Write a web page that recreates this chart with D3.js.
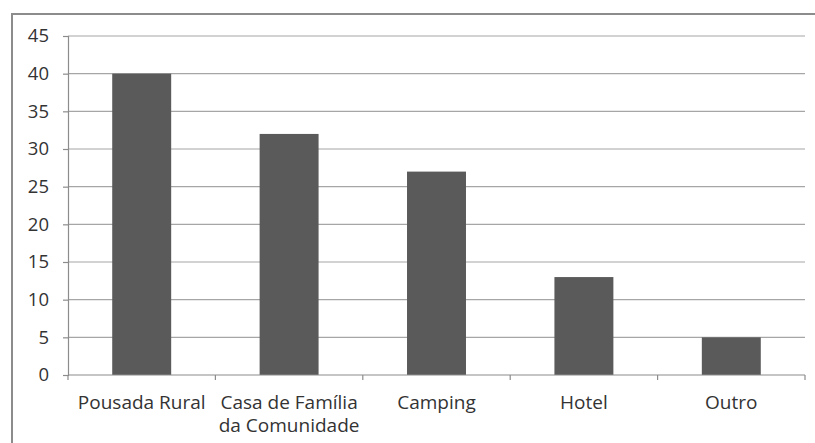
<!DOCTYPE html>
<html>
<head>
<meta charset="utf-8">
<script src="https://cdn.jsdelivr.net/npm/d3@7.9.0/dist/d3.min.js"></script>
<style>
  body { margin: 0; background: #fff; }
  svg { display: block; font-family: "Open Sans", sans-serif; }
</style>
</head>
<body>
<svg id="chart" width="815" height="443"></svg>
<script>
const categories = [['Pousada Rural'], ['Casa de Família', 'da Comunidade'], ['Camping'], ['Hotel'], ['Outro']];
const values = [40, 32, 27, 13, 5];
const yTicks = [0, 5, 10, 15, 20, 25, 30, 35, 40, 45];

const svg = d3.select('#chart');

// outer frame, runs off the right and bottom edges
svg.append('rect')
  .attr('x', 12).attr('y', 14)
  .attr('width', 815).attr('height', 440)
  .attr('fill', 'none')
  .attr('stroke', '#8c8c8c')
  .attr('stroke-width', 2);

const plotLeft = 68, plotRight = 805, plotTop = 36, plotBottom = 375;

const x = d3.scaleBand()
  .domain(d3.range(values.length))
  .range([plotLeft, plotRight])
  .paddingInner(0.6)
  .paddingOuter(0.3);

const y = d3.scaleLinear().domain([0, 45]).range([plotBottom, plotTop]);

// gridlines
svg.append('g')
  .selectAll('line')
  .data(yTicks.slice(1))
  .join('line')
  .attr('x1', plotLeft).attr('x2', plotRight)
  .attr('y1', d => y(d)).attr('y2', d => y(d))
  .attr('stroke', '#a6a6a6')
  .attr('stroke-width', 1.2);

// bars
svg.append('g')
  .selectAll('rect')
  .data(values)
  .join('rect')
  .attr('x', (d, i) => x(i))
  .attr('y', d => y(d))
  .attr('width', x.bandwidth())
  .attr('height', d => y(0) - y(d))
  .attr('fill', '#5a5a5a');

// y axis
const yAxis = svg.append('g')
  .attr('transform', `translate(${plotLeft},0)`)
  .call(d3.axisLeft(y).tickValues(yTicks).tickSize(5).tickPadding(14));
yAxis.selectAll('path, line').attr('stroke', '#8c8c8c').attr('stroke-width', 1.2);
yAxis.selectAll('text')
  .attr('font-size', 18.5)
  .attr('fill', '#333')
  .attr('font-family', '"Open Sans", sans-serif');

// x axis: line plus ticks at category boundaries
const bounds = d3.range(values.length + 1).map(i => plotLeft + i * (plotRight - plotLeft) / values.length);
const xg = svg.append('g');
xg.append('line')
  .attr('x1', plotLeft).attr('x2', plotRight)
  .attr('y1', plotBottom).attr('y2', plotBottom)
  .attr('stroke', '#8c8c8c').attr('stroke-width', 1.2);
xg.selectAll('line.tick')
  .data(bounds)
  .join('line')
  .attr('class', 'tick')
  .attr('x1', d => d).attr('x2', d => d)
  .attr('y1', plotBottom).attr('y2', plotBottom + 5)
  .attr('stroke', '#8c8c8c').attr('stroke-width', 1.2);

// category labels
const labels = xg.selectAll('text')
  .data(categories)
  .join('text')
  .attr('x', (d, i) => x(i) + x.bandwidth() / 2)
  .attr('y', 409)
  .attr('text-anchor', 'middle')
  .attr('font-size', 19)
  .attr('fill', '#333');
labels.selectAll('tspan')
  .data(d => d)
  .join('tspan')
  .attr('x', function () { return this.parentNode.getAttribute('x'); })
  .attr('dy', (d, i) => i === 0 ? 0 : 23)
  .text(d => d);
</script>
</body>
</html>
